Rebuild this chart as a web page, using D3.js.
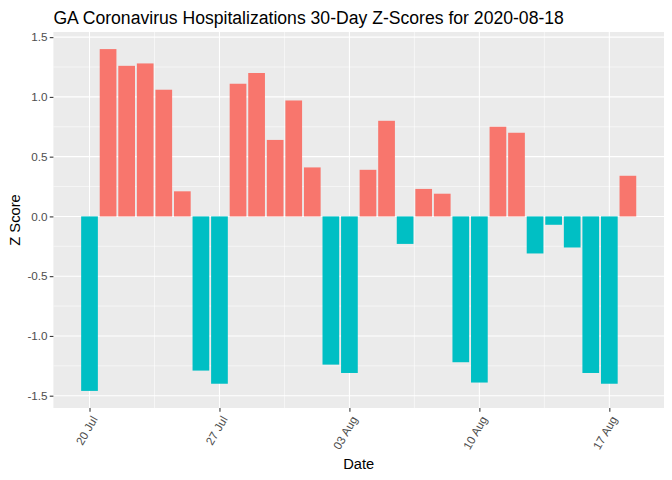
<!DOCTYPE html>
<html>
<head>
<meta charset="utf-8">
<script src="https://cdn.jsdelivr.net/npm/d3@7"></script>
<style>
  body { margin: 0; background: #fff; }
  text { font-family: "Liberation Sans", Arial, sans-serif; }
</style>
</head>
<body>
<script>
// one bar per day, 30 days ending 2020-08-18
var dates = [
  "2020-07-20", "2020-07-21", "2020-07-22", "2020-07-23", "2020-07-24",
  "2020-07-25", "2020-07-26", "2020-07-27", "2020-07-28", "2020-07-29",
  "2020-07-30", "2020-07-31", "2020-08-01", "2020-08-02", "2020-08-03",
  "2020-08-04", "2020-08-05", "2020-08-06", "2020-08-07", "2020-08-08",
  "2020-08-09", "2020-08-10", "2020-08-11", "2020-08-12", "2020-08-13",
  "2020-08-14", "2020-08-15", "2020-08-16", "2020-08-17", "2020-08-18"
];
var zscores = [
  -1.46, 1.40, 1.26, 1.28, 1.06,
   0.21, -1.29, -1.40, 1.11, 1.20,
   0.64, 0.97, 0.41, -1.24, -1.31,
   0.39, 0.80, -0.23, 0.23, 0.19,
  -1.22, -1.39, 0.75, 0.70, -0.31,
  -0.07, -0.26, -1.31, -1.40, 0.34
];
var xTicks = ["2020-07-20", "2020-07-27", "2020-08-03", "2020-08-10", "2020-08-17"];
var yTicks = [-1.5, -1.0, -0.5, 0.0, 0.5, 1.0, 1.5];

var parse = d3.utcParse("%Y-%m-%d");
var data = dates.map(function(d, i) { return {date: parse(d), z: zscores[i]}; });

var W = 672, H = 480;
var margin = {top: 32, right: 8, bottom: 72, left: 53.4};
var day = 864e5;

var svg = d3.select("body").append("svg")
    .attr("width", W)
    .attr("height", H);

// ggplot-like expansion: bars are 0.9 day wide, then 5% padding
var lo = +data[0].date - 0.45 * day,
    hi = +data[data.length - 1].date + 0.45 * day,
    pad = 0.05 * (hi - lo);
var x = d3.scaleUtc()
    .domain([new Date(lo - pad), new Date(hi + pad)])
    .range([margin.left, W - margin.right]);

var zmin = d3.min(zscores), zmax = d3.max(zscores), zpad = 0.05 * (zmax - zmin);
var y = d3.scaleLinear()
    .domain([zmin - zpad, zmax + zpad])
    .range([H - margin.bottom, margin.top]);

var px0 = x.range()[0], px1 = x.range()[1], py0 = y.range()[1], py1 = y.range()[0];

// panel
svg.append("rect")
    .attr("x", px0).attr("y", py0)
    .attr("width", px1 - px0).attr("height", py1 - py0)
    .attr("fill", "#EBEBEB");

var grid = svg.append("g");
var yMinor = [-1.25, -0.75, -0.25, 0.25, 0.75, 1.25];
grid.selectAll(".ymin").data(yMinor).enter().append("line")
    .attr("x1", px0).attr("x2", px1)
    .attr("y1", function(d) { return y(d); }).attr("y2", function(d) { return y(d); })
    .attr("stroke", "#fff").attr("stroke-width", 0.55);
var xMinor = xTicks.map(function(d) { return new Date(+parse(d) + 3.5 * day); })
    .filter(function(d) { return x(d) > px0 && x(d) < px1; });
grid.selectAll(".xmin").data(xMinor).enter().append("line")
    .attr("y1", py0).attr("y2", py1)
    .attr("x1", function(d) { return x(d); }).attr("x2", function(d) { return x(d); })
    .attr("stroke", "#fff").attr("stroke-width", 0.55);
grid.selectAll(".ymaj").data(yTicks).enter().append("line")
    .attr("x1", px0).attr("x2", px1)
    .attr("y1", function(d) { return y(d); }).attr("y2", function(d) { return y(d); })
    .attr("stroke", "#fff").attr("stroke-width", 1.07);
grid.selectAll(".xmaj").data(xTicks).enter().append("line")
    .attr("y1", py0).attr("y2", py1)
    .attr("x1", function(d) { return x(parse(d)); }).attr("x2", function(d) { return x(parse(d)); })
    .attr("stroke", "#fff").attr("stroke-width", 1.07);

// bars
var bw = x(new Date(0.9 * day)) - x(new Date(0));
svg.append("g").selectAll("rect")
    .data(data)
    .enter().append("rect")
    .attr("x", function(d) { return x(d.date) - bw / 2; })
    .attr("width", bw)
    .attr("y", function(d) { return y(Math.max(0, d.z)); })
    .attr("height", function(d) { return Math.abs(y(d.z) - y(0)); })
    .attr("fill", function(d) { return d.z > 0 ? "#F8766D" : "#00BFC4"; });

// axes
var fmtY = d3.format(".1f");
var yAxis = d3.axisLeft(y).tickValues(yTicks).tickSize(3.65).tickPadding(2.2)
    .tickFormat(function(d) { return fmtY(d).replace("−", "-"); });
var gy = svg.append("g").attr("transform", "translate(" + px0 + ",0)").call(yAxis);
gy.select(".domain").remove();
gy.selectAll("line").attr("stroke", "#333333").attr("stroke-width", 1.07);
gy.selectAll("text").attr("fill", "#4D4D4D").style("font-size", "11.7px");

var fmtX = d3.utcFormat("%d %b");
var xAxis = d3.axisBottom(x).tickValues(xTicks.map(parse)).tickSize(3.65).tickFormat(fmtX);
var gx = svg.append("g").attr("transform", "translate(0," + py1 + ")").call(xAxis);
gx.select(".domain").remove();
gx.selectAll("line").attr("stroke", "#333333").attr("stroke-width", 1.07);
gx.selectAll("text")
    .attr("fill", "#4D4D4D").style("font-size", "11.7px")
    .attr("text-anchor", "end")
    .attr("dy", null)
    .attr("x", 0).attr("y", 0)
    .attr("transform", "translate(8,11) rotate(-60)");

// titles
svg.append("text")
    .attr("x", px0).attr("y", 24)
    .style("font-size", "17.6px").attr("fill", "#000")
    .text("GA Coronavirus Hospitalizations 30-Day Z-Scores for 2020-08-18");

svg.append("text")
    .attr("x", (px0 + px1) / 2).attr("y", 469)
    .attr("text-anchor", "middle")
    .style("font-size", "14.7px").attr("fill", "#000")
    .text("Date");

svg.append("text")
    .attr("transform", "translate(20," + ((py0 + py1) / 2) + ") rotate(-90)")
    .attr("text-anchor", "middle")
    .style("font-size", "14.7px").attr("fill", "#000")
    .text("Z Score");
</script>
</body>
</html>
